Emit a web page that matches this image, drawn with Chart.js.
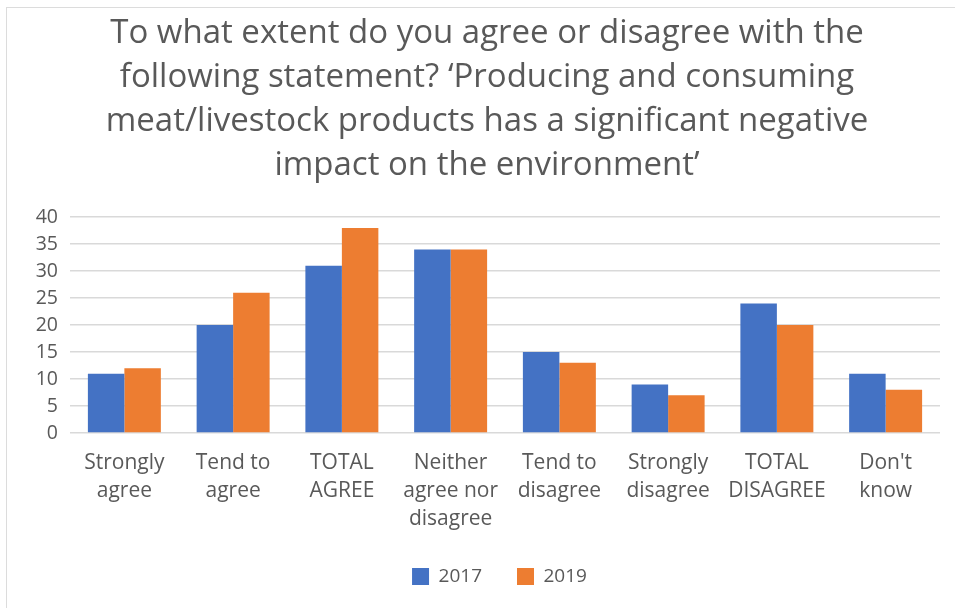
<!DOCTYPE html>
<html>
<head>
<meta charset="utf-8">
<script src="https://cdn.jsdelivr.net/npm/chart.js@4"></script>
<style>
  html, body { margin: 0; padding: 0; background: #fff; width: 955px; height: 608px; overflow: hidden; }
  #frame { position: absolute; left: 6px; top: 7px; width: 960px; height: 620px; border: 1px solid #dcdcdc; box-sizing: border-box; }
  #survey-chart { position: absolute; left: 0; top: 0; }
</style>
</head>
<body>
<div id="frame"></div>
<canvas id="survey-chart" width="955" height="608"></canvas>
<script>
const categories = [
  ['Strongly', 'agree'],
  ['Tend to', 'agree'],
  ['TOTAL', 'AGREE'],
  ['Neither', 'agree nor', 'disagree'],
  ['Tend to', 'disagree'],
  ['Strongly', 'disagree'],
  ['TOTAL', 'DISAGREE'],
  ["Don't", 'know']
];
const values2017 = [11, 20, 31, 34, 15, 9, 24, 11];
const values2019 = [12, 26, 38, 34, 13, 7, 20, 8];
const yTicks = [0, 5, 10, 15, 20, 25, 30, 35, 40];

const titleLines = [
  'To what extent do you agree or disagree with the',
  'following statement? \u2018Producing and consuming',
  'meat/livestock products has a significant negative',
  'impact on the environment\u2019'
];

const grey = '#595959';
const ctx = document.getElementById('survey-chart').getContext('2d');

// nudge the legend a little to the right of the plot centre
const legendShift = {
  id: 'legendShift',
  afterLayout(chart) {
    chart.legend.left += 25;
  }
};

new Chart(ctx, {
  type: 'bar',
  data: {
    labels: categories,
    datasets: [
      { label: '2017', data: values2017, backgroundColor: '#4472C4' },
      { label: '2019', data: values2019, backgroundColor: '#ED7D31' }
    ]
  },
  plugins: [legendShift],
  options: {
    responsive: false,
    animation: false,
    layout: { padding: { left: 34, right: 15, top: 0, bottom: 12 } },
    datasets: {
      bar: { categoryPercentage: 0.671, barPercentage: 1.0 }
    },
    plugins: {
      title: {
        display: true,
        text: titleLines,
        color: grey,
        font: { family: 'Open Sans', size: 33, weight: 'normal', lineHeight: '44.3px' },
        padding: { top: 11, bottom: 29 }
      },
      legend: {
        position: 'bottom',
        labels: {
          color: grey,
          font: { family: 'Open Sans', size: 19 },
          boxWidth: 17,
          boxHeight: 17,
          padding: 35
        }
      },
      tooltip: { enabled: false }
    },
    scales: {
      x: {
        grid: { display: false, drawTicks: false },
        border: { display: false },
        ticks: {
          color: grey,
          font: { family: 'Open Sans', size: 21, lineHeight: '28px' },
          padding: 16,
          maxRotation: 0,
          autoSkip: false
        },
        afterFit: (scale) => { scale.height = 99; }
      },
      y: {
        min: 0,
        max: 40,
        afterBuildTicks: (scale) => { scale.ticks = yTicks.map(v => ({ value: v })); },
        grid: { color: '#d9d9d9', lineWidth: 1.5, drawTicks: false },
        border: { display: false },
        ticks: {
          color: grey,
          font: { family: 'Open Sans', size: 19.5 },
          padding: 12,
          autoSkip: false
        },
        afterFit: (scale) => { scale.width = 36; }
      }
    }
  }
});
</script>
</body>
</html>
